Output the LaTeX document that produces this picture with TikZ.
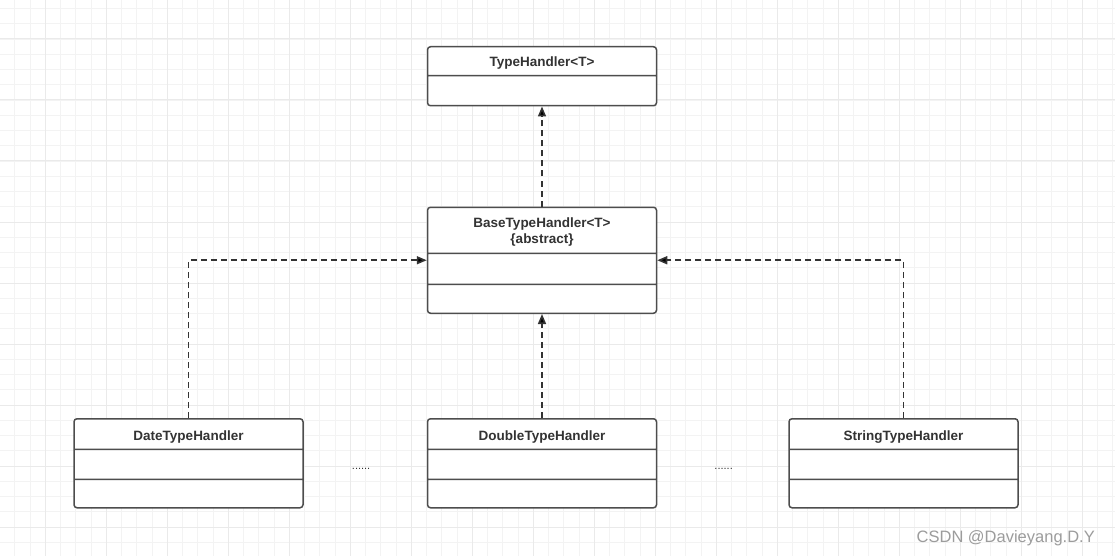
\documentclass[tikz,border=0pt]{standalone}
\usepackage{fontspec}
\setmainfont{Liberation Sans}
\usetikzlibrary{shapes.multipart, arrows.meta, positioning}
\definecolor{linegray}{HTML}{4D4D4D}
\definecolor{textgray}{HTML}{333333}
\definecolor{gridminor}{HTML}{F3F3F3}
\definecolor{gridmajor}{HTML}{EAEAEA}
\definecolor{markgray}{HTML}{9C9C9C}
\tikzstyle{umlclass} = [rectangle split,
rectangle split parts=3,
rounded corners=3pt,
minimum width=229pt,
inner xsep=0pt,
inner ysep=0pt,
draw=linegray, line width=1.5pt,
fill=white,
text=textgray,
font=\bfseries\fontsize{13.5}{16}\selectfont]
\tikzstyle{arrow} = [line width=1.6pt, draw=textgray,
dash pattern=on 6pt off 4pt,
->, >={Triangle[length=10pt, width=8pt]}]
\tikzstyle{dots} = [inner sep=0pt, text=textgray, font=\fontsize{11}{13}\selectfont]
\tikzstyle{minorline} = [draw=gridminor, line width=0.8pt]
\tikzstyle{majorline} = [draw=gridmajor, line width=1pt]

\begin{document}
\begin{tikzpicture}[x=1pt, y=-1pt, node distance=100pt]
			\useasboundingbox (0,0) rectangle (1115,556);
			\fill[white] (0,0) rectangle (1115,556);
			% background grid
			\foreach \i in {0,...,73} \draw[minorline] ({-0.5+15.25*\i},0) -- ++(0,556);
			\foreach \j in {0,...,37} \draw[minorline] (0,{-6.75+15.25*\j}) -- ++(1115,0);
			\foreach \i in {0,...,18} \draw[majorline] ({-16+61*\i},0) -- ++(0,556);
			\foreach \j in {0,...,10} \draw[majorline] (0,{-22+61*\j}) -- ++(1115,0);

			\node (type) [umlclass, rectangle split parts=2, anchor=north] at (542,46)
				{\rule[-8.5pt]{0pt}{27.5pt}TypeHandler<T>\nodepart{two}\rule{0pt}{28.5pt}};
			\node (base) [umlclass, below=of type]
				{\rule[-17pt]{0pt}{44.5pt}\begin{tabular}{@{}c@{}}BaseTypeHandler<T>\\\{abstract\}\end{tabular}%
				\nodepart{two}\rule{0pt}{29.5pt}\nodepart{three}\rule{0pt}{27.5pt}};
			\node (double) [umlclass, below=104pt of base]
				{\rule[-8.5pt]{0pt}{29pt}DoubleTypeHandler\nodepart{two}\rule{0pt}{28.5pt}\nodepart{three}\rule{0pt}{27pt}};
			\node (date) [umlclass, left=123pt of double]
				{\rule[-8.5pt]{0pt}{29pt}DateTypeHandler\nodepart{two}\rule{0pt}{28.5pt}\nodepart{three}\rule{0pt}{27pt}};
			\node (string) [umlclass, right=131pt of double]
				{\rule[-8.5pt]{0pt}{29pt}StringTypeHandler\nodepart{two}\rule{0pt}{28.5pt}\nodepart{three}\rule{0pt}{27pt}};
			\node (dotsleft) [dots, right=48pt of date, yshift=-6pt] {......};
			\node (dotsright) [dots, right=57pt of double, yshift=-6pt] {......};

			\draw[arrow] (base.north) -- (type.south);
			\draw[arrow] (double.north) -- (base.south);
			\draw[arrow] (date.north) |- (base.west);
			\draw[arrow] (string.north) |- (base.east);

			\node (mark) [anchor=base east, inner sep=0pt, text=markgray, font=\fontsize{16.5}{19}\selectfont] at (1095,542) {CSDN @Davieyang.D.Y};
		\end{tikzpicture}
\end{document}
